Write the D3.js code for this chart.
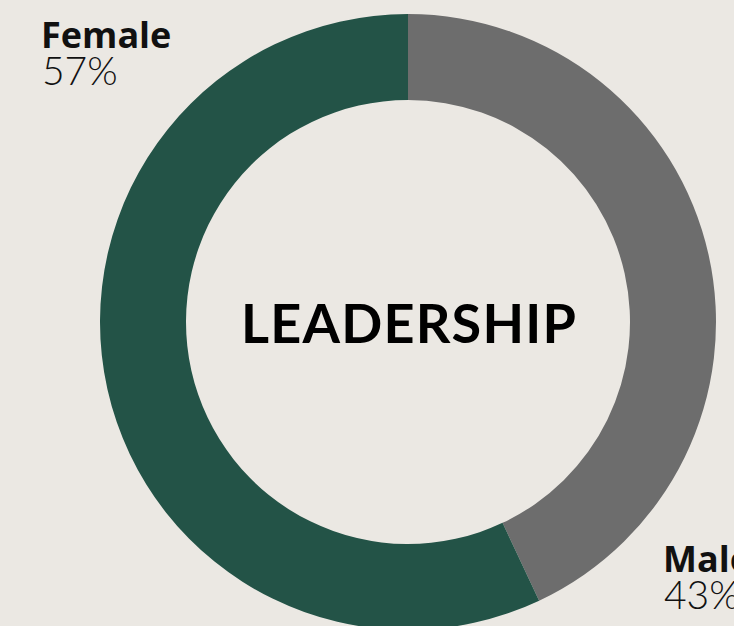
<!DOCTYPE html>
<html>
<head>
  <meta charset="UTF-8">
  <style>
    body { margin: 0; background: #ebe8e3; overflow: hidden; }
    svg { display: block; font-family: "Lato", "Open Sans", sans-serif; }
    .lbl { font-family: "Open Sans", "Lato", sans-serif; }
  </style>
</head>
<body>
<svg></svg>
<script src="https://d3js.org/d3.v7.min.js"></script>
<script>
let width = 734, height = 626;

// data
let categories = ["Male", "Female"];
let shares = [43, 57];
let colours = ["#6d6d6d", "#235347"];

let svg = d3.select("svg")
    .attr("width", width)
    .attr("height", height);

let cx = 408, cy = 322;

let pie = d3.pie().sort(null).value(d => d.value);
let arc = d3.arc().innerRadius(222).outerRadius(308);

let data = categories.map((c, i) => ({ name: c, value: shares[i], colour: colours[i] }));

let g = svg.append("g").attr("transform", "translate(" + cx + "," + cy + ")");

g.selectAll("path")
    .data(pie(data))
    .enter()
    .append("path")
    .attr("d", arc)
    .attr("fill", d => d.data.colour);

// centre title
g.append("text")
    .attr("x", 1)
    .attr("y", 21)
    .attr("text-anchor", "middle")
    .style("font-size", "54px")
    .style("font-weight", 700)
    .style("letter-spacing", "1.2px")
    .attr("fill", "#000")
    .text("LEADERSHIP");

// labels
let labelPos = { Female: [41, 48], Male: [663, 572] };
data.forEach(d => {
    let p = labelPos[d.name];
    svg.append("text")
        .attr("class", "lbl")
        .attr("x", p[0]).attr("y", p[1])
        .style("font-size", "36px")
        .style("font-weight", 700)
        .attr("fill", "#111")
        .text(d.name);
    svg.append("text")
        .attr("x", p[0] + 1).attr("y", p[1] + 37)
        .style("font-size", "39px")
        .style("font-weight", 300)
        .attr("fill", "#111")
        .text(d.value + "%");
});
</script>
</body>
</html>
